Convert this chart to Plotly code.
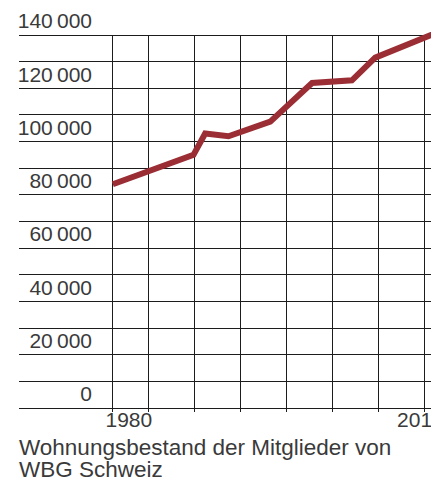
import plotly.graph_objects as go

# ---- data ----
years = [1978.35, 1986.65, 1987.85, 1990.25, 1994.55, 1998.85, 2002.95, 2005.35, 2013.0]
flats = [84000, 95000, 103000, 102000, 107500, 122000, 123000, 131500, 142800]

x_label_years = [1980, 2010]
x_label_text = ["1980", "2010"]
x_grid_years = [1978.32, 1982.01, 1986.74, 1991.47, 1996.20, 2000.94, 2005.67, 2010.42]
x_range = [1968.70, 2011.91]

y_label_vals = [0, 20000, 40000, 60000, 80000, 100000, 120000, 140000]
y_label_text = [f"{v:,}".replace(",", "\u2009") for v in y_label_vals]
y_grid_step = 10000
y_grid_top = 140000
y_range = [0, 143378]

caption_lines = ["Wohnungsbestand der Mitglieder von", "WBG Schweiz"]

# ---- style ----
FONT = "Liberation Sans"
TEXT = "#3a3a3a"
GRID = "#1c1c1c"
LINE = "#9b2d35"
FS = 21

fig = go.Figure()
fig.add_trace(go.Scatter(
    x=years, y=flats, mode="lines",
    line=dict(color=LINE, width=6),
    hoverinfo="skip", showlegend=False,
))
# empty helper trace so the label axis (y2) is drawn
fig.add_trace(go.Scatter(x=[], y=[], yaxis="y2", mode="lines",
                         hoverinfo="skip", showlegend=False))

fig.update_layout(
    width=431, height=487,
    margin=dict(l=11, r=0, t=18, b=87, autoexpand=False),
    paper_bgcolor="white", plot_bgcolor="white",
    font=dict(family=FONT, size=FS, color=TEXT),
    showlegend=False,
    xaxis=dict(
        range=x_range, tickmode="array", tickvals=x_label_years, ticktext=x_label_text,
        showgrid=False, zeroline=False, ticks="", automargin=False,
        showline=True, linecolor=GRID, linewidth=1.3,
        tickfont=dict(family=FONT, size=FS, color=TEXT),
        ticklabelstandoff=-7, ticklabeloverflow="allow",
        minor=dict(tickmode="array", tickvals=x_grid_years, showgrid=True,
                   gridcolor=GRID, gridwidth=1.3, ticks="outside", ticklen=3,
                   tickcolor=GRID, tickwidth=1.3),
    ),
    yaxis=dict(
        range=y_range, tickmode="linear", tick0=0, dtick=y_grid_step,
        showticklabels=False, showgrid=True, gridcolor=GRID, gridwidth=1.3,
        zeroline=False, ticks="", automargin=False,
    ),
    yaxis2=dict(
        overlaying="y", anchor="free", position=(92 - 19) / 420, side="left",
        range=y_range, tickmode="array", tickvals=y_label_vals, ticktext=y_label_text,
        showgrid=False, zeroline=False, ticks="", showline=False, automargin=False,
        tickfont=dict(family=FONT, size=FS, color=TEXT),
        ticklabelshift=-14, ticklabelstandoff=0, ticklabeloverflow="allow",
    ),
)

# white band hiding vertical grid above the top horizontal gridline
fig.add_shape(type="rect", layer="between", xref="x", yref="y",
              x0=x_range[0], x1=x_range[1], y0=y_grid_top, y1=y_range[1],
              fillcolor="white", line=dict(width=0))

for i, txt in enumerate(caption_lines):
    fig.add_annotation(
        text=txt, xref="paper", yref="paper", x=-0.004, y=-0.103 - 0.0585 * i,
        xanchor="left", yanchor="middle", showarrow=False,
        font=dict(family=FONT, size=22.5, color=TEXT),
    )

fig.write_html("out.html")
